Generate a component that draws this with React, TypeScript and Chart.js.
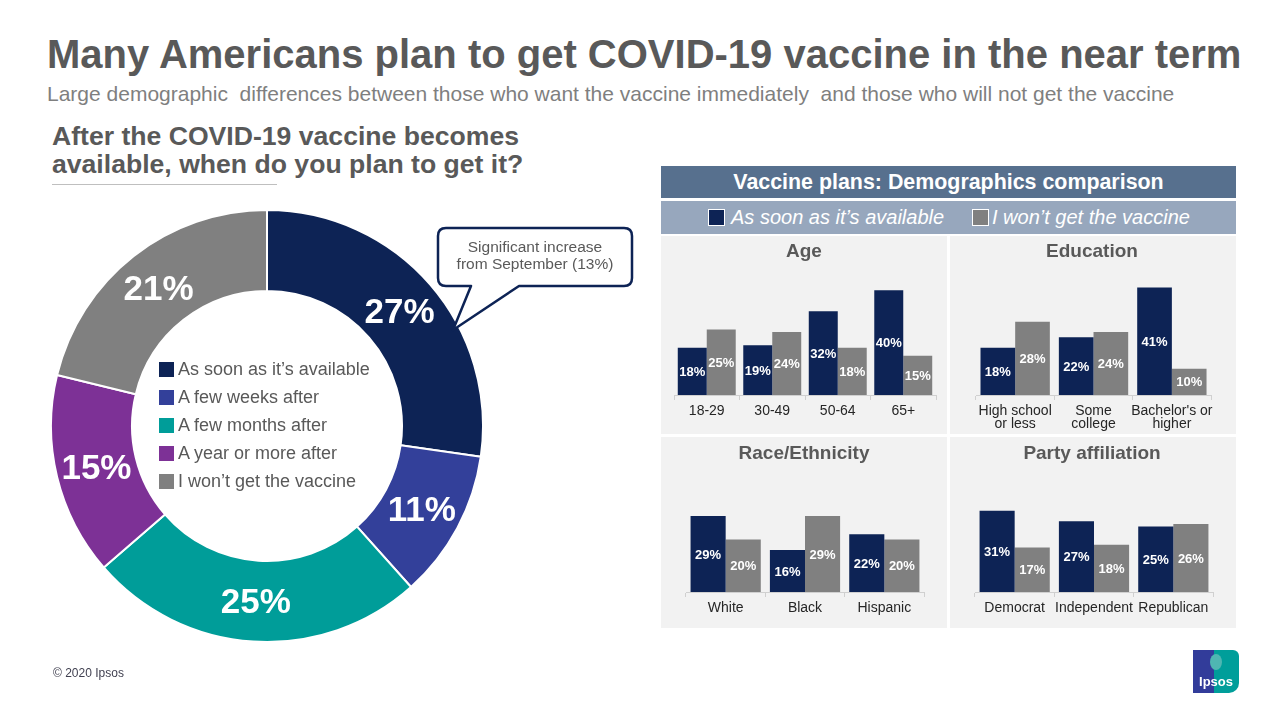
import React, { useEffect, useRef } from "react";
import { Chart, registerables } from "chart.js";

Chart.register(...registerables);

const FONT = "Arial, 'Liberation Sans', Helvetica, sans-serif";
Chart.defaults.font.family = FONT;

// ---------- Data ----------
const donutLabels = [
  "As soon as it’s available",
  "A few weeks after",
  "A few months after",
  "A year or more after",
  "I won’t get the vaccine",
];
const donutValues = [27, 11, 25, 15, 21];
const donutColors = ["#0D2355", "#33409A", "#009D99", "#7D3196", "#808080"];

const seriesNames = ["As soon as it’s available", "I won’t get the vaccine"];
const seriesColors = ["#0D2355", "#808080"];

const ageCategories = ["18-29", "30-49", "50-64", "65+"];
const ageSoon = [18, 19, 32, 40];
const ageWont = [25, 24, 18, 15];

const eduCategories = [["High school", "or less"], ["Some", "college"], ["Bachelor's or", "higher"]];
const eduSoon = [18, 22, 41];
const eduWont = [28, 24, 10];

const raceCategories = ["White", "Black", "Hispanic"];
const raceSoon = [29, 16, 22];
const raceWont = [20, 29, 20];

const partyCategories = ["Democrat", "Independent", "Republican"];
const partySoon = [31, 27, 25];
const partyWont = [17, 18, 26];

// ---------- Layout constants ----------
const Y_MAX = 50;
const PLOT_H = 131;
const AXIS_H = 40;
const PAD = 3;

const valueLabelPlugin = {
  id: "valueLabels",
  afterDatasetsDraw(chart: any) {
    const ctx = chart.ctx;
    ctx.save();
    ctx.font = `bold 13px ${FONT}`;
    ctx.fillStyle = "#ffffff";
    ctx.textAlign = "center";
    ctx.textBaseline = "middle";
    chart.data.datasets.forEach((ds: any, i: number) => {
      const meta = chart.getDatasetMeta(i);
      meta.data.forEach((bar: any, j: number) => {
        const { x, y, base } = bar.getProps(["x", "y", "base"], true);
        ctx.fillText(ds.data[j] + "%", x, (y + base) / 2 + 1);
      });
    });
    ctx.restore();
  },
};

const donutLabelPlugin = {
  id: "donutLabels",
  afterDatasetsDraw(chart: any) {
    const ctx = chart.ctx;
    ctx.save();
    ctx.font = `bold 35px ${FONT}`;
    ctx.fillStyle = "#ffffff";
    ctx.textAlign = "center";
    ctx.textBaseline = "middle";
    const meta = chart.getDatasetMeta(0);
    const ds = chart.data.datasets[0];
    meta.data.forEach((arc: any, i: number) => {
      const p = arc.getProps(["x", "y", "startAngle", "endAngle", "innerRadius", "outerRadius"], true);
      const mid = (p.startAngle + p.endAngle) / 2;
      const r = (p.innerRadius + p.outerRadius) / 2;
      ctx.fillText(ds.data[i] + "%", p.x + Math.cos(mid) * r, p.y + Math.sin(mid) * r + 2);
    });
    ctx.restore();
  },
};

function BarPanel(props: {
  categories: any[];
  soon: number[];
  wont: number[];
  axisLeft: number;
  axisWidth: number;
  baseline: number;
}) {
  const { categories, soon, wont, axisLeft, axisWidth, baseline } = props;
  const ref = useRef<HTMLCanvasElement>(null);
  useEffect(() => {
    const chart = new Chart(ref.current as HTMLCanvasElement, {
      type: "bar",
      data: {
        labels: categories,
        datasets: [
          { label: seriesNames[0], data: soon, backgroundColor: seriesColors[0], categoryPercentage: 0.885, barPercentage: 1 },
          { label: seriesNames[1], data: wont, backgroundColor: seriesColors[1], categoryPercentage: 0.885, barPercentage: 1 },
        ],
      },
      options: {
        responsive: false,
        animation: false,
        events: [],
        layout: { padding: { left: PAD, right: PAD, top: 0, bottom: 0 } },
        plugins: { legend: { display: false }, tooltip: { enabled: false } },
        scales: {
          x: {
            grid: { display: true, drawOnChartArea: false, drawTicks: true, tickLength: 5, color: "#D0D0D0", offset: true },
            border: { display: true, color: "#D0D0D0" },
            ticks: {
              color: "#262626",
              font: { size: 14, lineHeight: 0.95 },
              padding: 4,
              autoSkip: false,
              maxRotation: 0,
              minRotation: 0,
            },
            afterFit: (s: any) => {
              s.height = AXIS_H;
            },
          },
          y: { display: false, min: 0, max: Y_MAX },
        },
      } as any,
      plugins: [valueLabelPlugin],
    });
    return () => chart.destroy();
  }, []);
  const w = axisWidth + 2 * PAD;
  const h = PLOT_H + AXIS_H;
  return (
    <canvas
      ref={ref}
      width={w}
      height={h}
      style={{ position: "absolute", left: axisLeft - PAD, top: baseline - PLOT_H, width: w, height: h }}
    />
  );
}

function Donut() {
  const ref = useRef<HTMLCanvasElement>(null);
  useEffect(() => {
    const chart = new Chart(ref.current as HTMLCanvasElement, {
      type: "doughnut",
      data: {
        labels: donutLabels,
        datasets: [
          {
            data: donutValues,
            backgroundColor: donutColors,
            borderColor: "#ffffff",
            borderWidth: 2,
            hoverBorderWidth: 2,
          },
        ],
      },
      options: {
        responsive: false,
        animation: false,
        events: [],
        cutout: "62.5%",
        layout: { padding: 0 },
        plugins: { legend: { display: false }, tooltip: { enabled: false } },
      } as any,
      plugins: [donutLabelPlugin],
    });
    return () => chart.destroy();
  }, []);
  return (
    <canvas
      ref={ref}
      width={434}
      height={434}
      style={{ position: "absolute", left: 50, top: 209, width: 434, height: 434 }}
    />
  );
}

const abs = (s: any): any => ({ position: "absolute", ...s });

export default function App() {
  return (
    <div style={abs({ left: 0, top: 0, width: 1280, height: 720, background: "#fff", fontFamily: FONT, overflow: "hidden" })}>
      {/* Titles */}
      <div style={abs({ left: 47, top: 34, height: 40, lineHeight: "40px", fontSize: 40, fontWeight: "bold", color: "#595959", whiteSpace: "nowrap" })}>
        Many Americans plan to get COVID-19 vaccine in the near term
      </div>
      <div style={abs({ left: 47, top: 83, height: 21, lineHeight: "21px", fontSize: 21, color: "#7F7F7F", whiteSpace: "pre" })}>
        {"Large demographic  differences between those who want the vaccine immediately  and those who will not get the vaccine"}
      </div>
      <div style={abs({ left: 52, top: 122, lineHeight: "28px", fontSize: 26.6, fontWeight: "bold", color: "#595959", whiteSpace: "nowrap" })}>
        After the COVID-19 vaccine becomes
        <br />
        available, when do you plan to get it?
      </div>
      <div style={abs({ left: 52, top: 184, width: 225, height: 1, background: "#BFBFBF" })} />

      {/* Donut */}
      <Donut />
      <div style={abs({ left: 159, top: 355 })}>
        {donutLabels.map((l, i) => (
          <div key={i} style={{ display: "flex", alignItems: "center", height: 28 }}>
            <div style={{ width: 15, height: 15, background: donutColors[i], marginRight: 4 }} />
            <div style={{ fontSize: 18, color: "#595959", whiteSpace: "nowrap" }}>{l}</div>
          </div>
        ))}
      </div>

      {/* Callout */}
      <svg width={1280} height={720} style={abs({ left: 0, top: 0, pointerEvents: "none" })}>
        <path
          d="M 446 228 H 624 Q 632 228 632 236 V 278 Q 632 286 624 286 H 519 L 453 330 L 471 286 H 446 Q 438 286 438 278 V 236 Q 438 228 446 228 Z"
          fill="#ffffff"
          stroke="#0D2355"
          strokeWidth={2.5}
          strokeLinejoin="round"
        />
      </svg>
      <div style={abs({ left: 438, top: 238, width: 194, textAlign: "center", fontSize: 15.5, lineHeight: "17px", color: "#595959" })}>
        Significant increase
        <br />
        from September (13%)
      </div>

      {/* Right panel header */}
      <div style={abs({ left: 661, top: 166, width: 575, height: 32, background: "#57708E", color: "#fff", fontWeight: "bold", fontSize: 21.4, lineHeight: "32px", textAlign: "center" })}>
        Vaccine plans: Demographics comparison
      </div>
      <div style={abs({ left: 661, top: 201, width: 575, height: 33, background: "#97A7BD" })}>
        <div style={abs({ left: 47, top: 8, width: 15, height: 15, background: seriesColors[0], border: "1px solid #fff" })} />
        <div style={abs({ left: 70, top: 0, lineHeight: "33px", fontSize: 20, fontStyle: "italic", color: "#fff", whiteSpace: "nowrap" })}>
          {seriesNames[0]}
        </div>
        <div style={abs({ left: 311, top: 8, width: 15, height: 15, background: seriesColors[1], border: "1px solid #fff" })} />
        <div style={abs({ left: 331, top: 0, lineHeight: "33px", fontSize: 20, fontStyle: "italic", color: "#fff", whiteSpace: "nowrap" })}>
          {seriesNames[1]}
        </div>
      </div>

      {/* Panels */}
      <div style={abs({ left: 661, top: 236, width: 286, height: 198, background: "#F2F2F2" })} />
      <div style={abs({ left: 950, top: 236, width: 286, height: 198, background: "#F2F2F2" })} />
      <div style={abs({ left: 661, top: 437, width: 286, height: 191, background: "#F2F2F2" })} />
      <div style={abs({ left: 950, top: 437, width: 286, height: 191, background: "#F2F2F2" })} />

      {[
        ["Age", 804, 251],
        ["Education", 1092, 251],
        ["Race/Ethnicity", 804, 453],
        ["Party affiliation", 1092, 453],
      ].map(([t, x, y]: any) => (
        <div key={t} style={abs({ left: x - 100, top: y - 11, width: 200, height: 22, lineHeight: "22px", textAlign: "center", fontSize: 19, fontWeight: "bold", color: "#595959" })}>
          {t}
        </div>
      ))}

      <BarPanel categories={ageCategories} soon={ageSoon} wont={ageWont} axisLeft={674} axisWidth={262} baseline={395} />
      <BarPanel categories={eduCategories} soon={eduSoon} wont={eduWont} axisLeft={976} axisWidth={238} baseline={395} />
      <BarPanel categories={raceCategories} soon={raceSoon} wont={raceWont} axisLeft={686} axisWidth={238} baseline={592} />
      <BarPanel categories={partyCategories} soon={partySoon} wont={partyWont} axisLeft={975} axisWidth={238} baseline={592} />

      {/* Footer */}
      <div style={abs({ left: 53, top: 666, fontSize: 12, lineHeight: "14px", color: "#3F3F4F" })}>© 2020 Ipsos</div>
      <div style={abs({ left: 1193, top: 650, width: 46, height: 43, background: "linear-gradient(to right, #323C9A 0%, #323C9A 45%, #009E9A 45%, #009E9A 100%)", borderTopRightRadius: 6, borderBottomRightRadius: 10 })}>
        <div style={abs({ left: 17, top: 4, width: 12, height: 16, borderRadius: "50%", background: "#4FB6B2" })} />
        <div style={abs({ left: 0, top: 25, width: 46, textAlign: "center", color: "#fff", fontWeight: "bold", fontSize: 13, lineHeight: "14px" })}>Ipsos</div>
      </div>
    </div>
  );
}
